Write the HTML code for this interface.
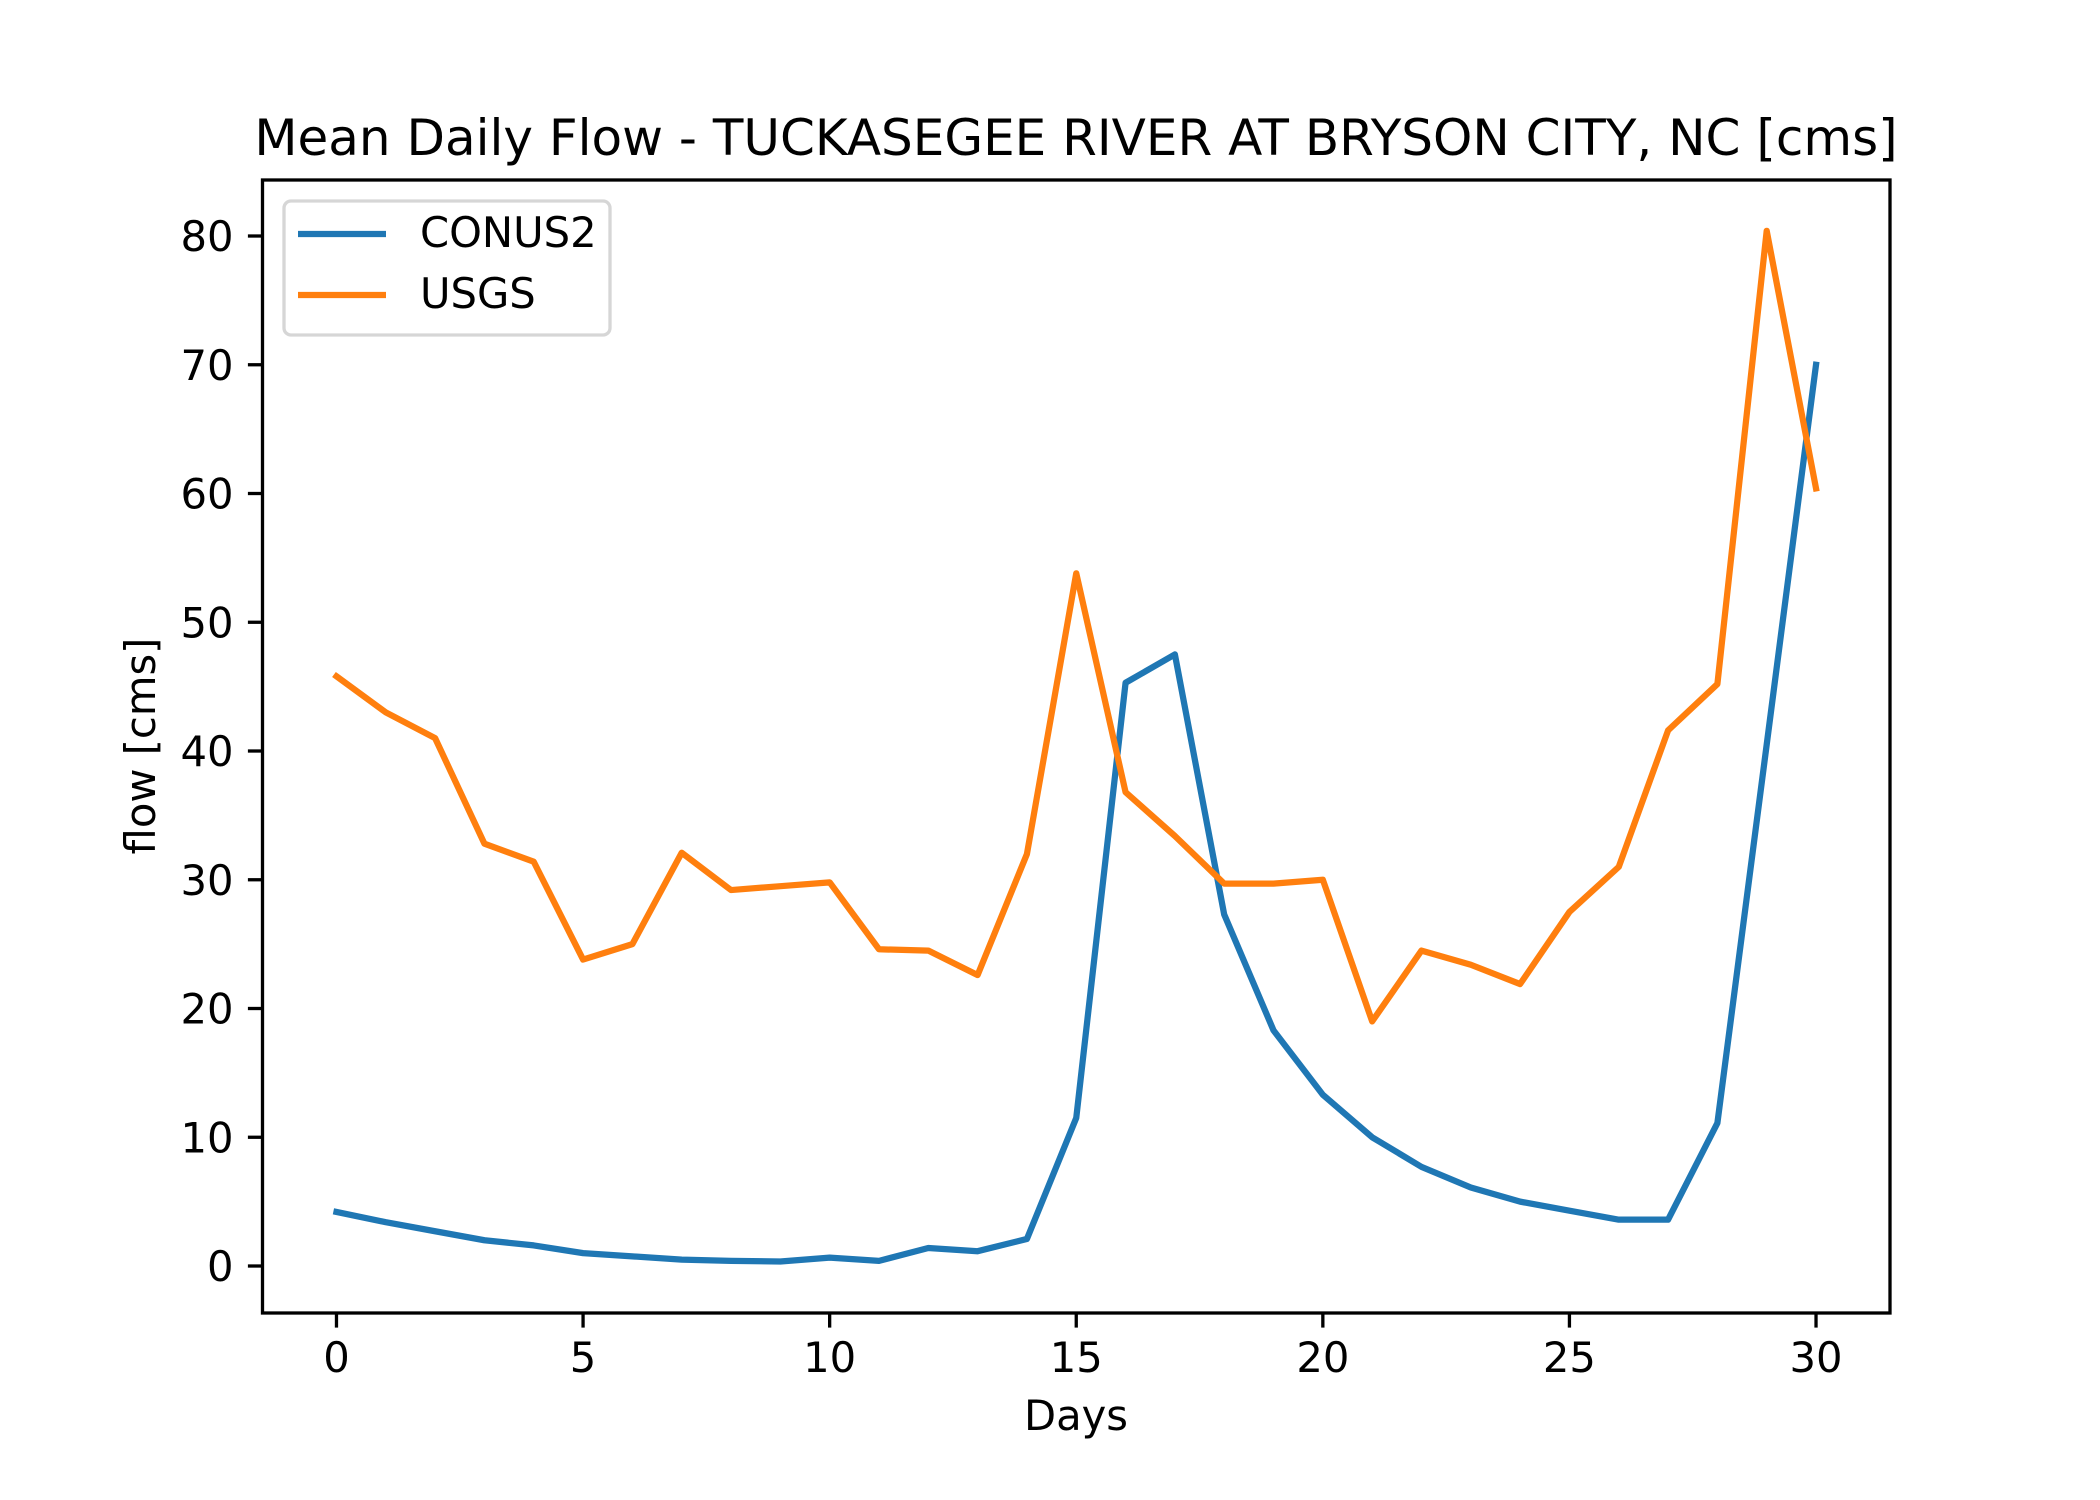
<!DOCTYPE html>
<html><head><meta charset="utf-8"><style>
html,body{margin:0;padding:0;background:#fff;}
svg{display:block;font-family:"DejaVu Sans","Liberation Sans",sans-serif;}
</style></head><body>
<svg id="chart" width="2100" height="1500" viewBox="0 0 2100 1500">
<rect x="0" y="0" width="2100" height="1500" fill="#fff"/>
<text x="1076" y="155" font-size="50" text-anchor="middle" fill="#000">Mean Daily Flow - TUCKASEGEE RIVER AT BRYSON CITY, NC [cms]</text>
<g id="plot"></g>
<text x="1076" y="1430" font-size="41.7" text-anchor="middle" fill="#000">Days</text>
<text x="0" y="0" font-size="41.7" text-anchor="middle" fill="#000" transform="translate(155,746) rotate(-90)">flow [cms]</text>
</svg>
<script>
const days = [0,1,2,3,4,5,6,7,8,9,10,11,12,13,14,15,16,17,18,19,20,21,22,23,24,25,26,27,28,29,30];
const conus2 = [4.2,3.4,2.7,2.0,1.6,1.0,0.75,0.5,0.4,0.35,0.65,0.4,1.4,1.15,2.1,11.5,45.3,47.5,27.3,18.3,13.3,10.0,7.7,6.1,5.0,4.3,3.6,3.6,11.1,40.5,70.0];
const usgs = [45.8,43.0,41.0,32.8,31.4,23.8,25.0,32.1,29.2,29.5,29.8,24.6,24.5,22.6,32.0,53.8,36.8,33.4,29.7,29.7,30.0,19.0,24.5,23.4,21.9,27.5,31.0,41.6,45.2,80.4,60.4];
const xTicks = [0,5,10,15,20,25,30];
const yTicks = [0,10,20,30,40,50,60,70,80];

const AX={l:262.5,r:1890,t:180,b:1313};
const X0=-1.5,X1=31.5,Y0=-3.65,Y1=84.35;
const sx=v=>AX.l+(v-X0)/(X1-X0)*(AX.r-AX.l);
const sy=v=>AX.b-(v-Y0)/(Y1-Y0)*(AX.b-AX.t);
const NS='http://www.w3.org/2000/svg';
const g=document.getElementById('plot');
function mk(tag,attrs,parent){const e=document.createElementNS(NS,tag);for(const k in attrs)e.setAttribute(k,attrs[k]);(parent||g).appendChild(e);return e;}

const clip=mk('clipPath',{id:'clipA'});
mk('rect',{x:AX.l,y:AX.t,width:AX.r-AX.l,height:AX.b-AX.t},clip);

function series(vals,color,name){
  const d=vals.map((v,i)=>(i?'L':'M')+sx(days[i]).toFixed(2)+','+sy(v).toFixed(2)).join(' ');
  const p=mk('path',{d:d,fill:'none',stroke:color,'stroke-width':6.25,'stroke-linejoin':'round','stroke-linecap':'square','clip-path':'url(#clipA)'});
  
  
}
series(conus2,'#1f77b4','conus2-line');
series(usgs,'#ff7f0e','usgs-line');

const frame=mk('rect',{x:AX.l,y:AX.t,width:AX.r-AX.l,height:AX.b-AX.t,fill:'none',stroke:'#000','stroke-width':3.3});



xTicks.forEach(v=>{
  const x=sx(v);
  const t=mk('line',{x1:x,x2:x,y1:AX.b,y2:AX.b+14.6,stroke:'#000','stroke-width':3.3});
  
  
  const l=mk('text',{x:x,y:1372,'font-size':41.7,'text-anchor':'middle',fill:'#000'});
  l.textContent=v;
  
  
});
yTicks.forEach(v=>{
  const y=sy(v);
  const t=mk('line',{x1:AX.l-14.6,x2:AX.l,y1:y,y2:y,stroke:'#000','stroke-width':3.3});
  
  
  const l=mk('text',{x:AX.l-29,y:y+15,'font-size':41.7,'text-anchor':'end',fill:'#000'});
  l.textContent=v;
  
  
});

const leg=mk('g',{});


mk('rect',{x:284,y:201,width:326,height:134,rx:7,fill:'#fff','fill-opacity':0.8,stroke:'#d6d6d6','stroke-width':3.3},leg);
const entries=[['CONUS2','#1f77b4',234,247],['USGS','#ff7f0e',295,308]];
entries.forEach(e=>{
  const eg=mk('g',{},leg);
  
  
  mk('line',{x1:298,x2:386,y1:e[2],y2:e[2],stroke:e[1],'stroke-width':6.25},eg);
  const t=mk('text',{x:420,y:e[3],'font-size':41.7,fill:'#000'},eg);
  t.textContent=e[0];
});
</script>
</body></html>
